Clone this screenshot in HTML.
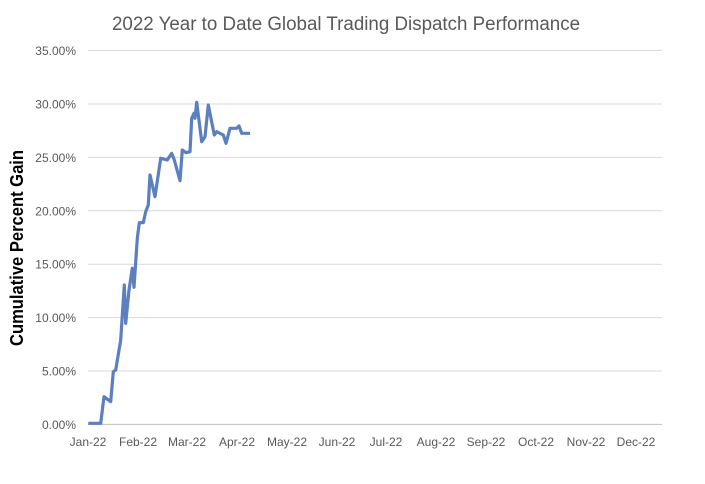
<!DOCTYPE html>
<html><head><style>body{margin:0;background:#fff}</style></head><body>
<svg width="705" height="479" xmlns="http://www.w3.org/2000/svg" font-family="Liberation Sans, sans-serif">
<rect width="705" height="479" fill="#fff"/>
<text x="346" y="30" font-size="19" fill="#595959" text-anchor="middle" textLength="468" lengthAdjust="spacingAndGlyphs">2022 Year to Date Global Trading Dispatch Performance</text>
<g stroke="#d9d9d9" stroke-width="1">
<line x1="88" x2="662" y1="50.5" y2="50.5"/><line x1="88" x2="662" y1="104" y2="104"/><line x1="88" x2="662" y1="157.4" y2="157.4"/><line x1="88" x2="662" y1="210.8" y2="210.8"/><line x1="88" x2="662" y1="264.2" y2="264.2"/><line x1="88" x2="662" y1="317.6" y2="317.6"/><line x1="88" x2="662" y1="371" y2="371"/><line x1="88" x2="662" y1="424.4" y2="424.4" stroke="#bfbfbf"/>
</g>
<g font-size="12" fill="#595959" text-anchor="end">
<text x="76" y="55">35.00%</text><text x="76" y="108.5">30.00%</text><text x="76" y="162">25.00%</text><text x="76" y="215.3">20.00%</text><text x="76" y="268.7">15.00%</text><text x="76" y="322">10.00%</text><text x="76" y="375.5">5.00%</text><text x="76" y="429">0.00%</text>
</g>
<g font-size="12" fill="#595959" text-anchor="middle">
<text x="88" y="446">Jan-22</text><text x="138" y="446">Feb-22</text><text x="187" y="446">Mar-22</text><text x="237" y="446">Apr-22</text><text x="287" y="446">May-22</text><text x="337" y="446">Jun-22</text><text x="386" y="446">Jul-22</text><text x="436" y="446">Aug-22</text><text x="486" y="446">Sep-22</text><text x="536" y="446">Oct-22</text><text x="586" y="446">Nov-22</text><text x="636" y="446">Dec-22</text>
</g>
<text transform="translate(23,248) rotate(-90)" font-size="18" font-weight="bold" fill="#000" text-anchor="middle" textLength="196" lengthAdjust="spacingAndGlyphs">Cumulative Percent Gain</text>
<polyline fill="none" stroke="#5b7fbf" stroke-width="3.2" stroke-linejoin="round" points="88.3,423.3 100.7,423.3 104,396.7 110.7,401.7 113.3,371.7 115.7,370 120.7,340 124.3,285 125.7,323.3 129,290 132.3,268.3 134,287.3 137.3,238.3 139.3,222.7 143.3,222.7 145.7,211.7 148.3,205 150,175 155,196.7 160.7,158.3 167.3,160 171.7,153.3 174.3,160 180,180.7 182.3,150 186,152.7 190,151.7 191.7,118.3 194,113.3 195,118.3 196.7,102.3 201.7,141.7 205,136.7 208.3,105 214.3,135 216.7,131.7 223.3,135 226,143.3 230,128.3 236.7,128.3 239,126 241.7,133.3 250,133.3"/>
</svg>
</body></html>
